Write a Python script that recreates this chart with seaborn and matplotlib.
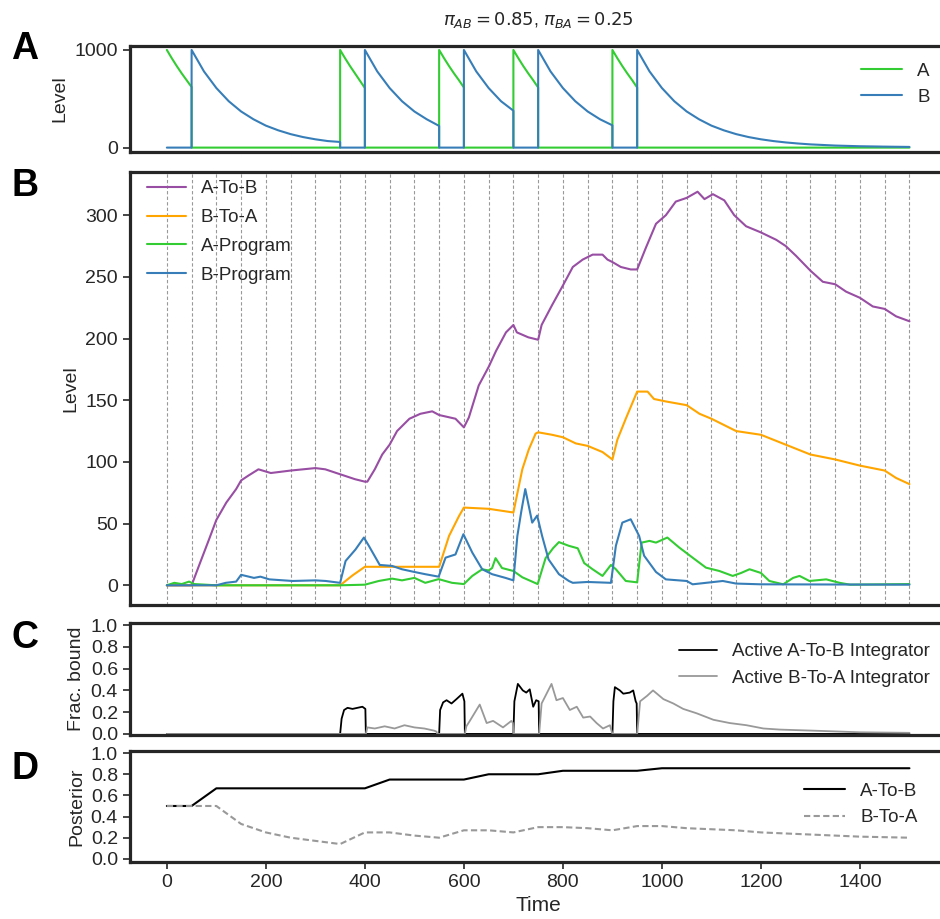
import numpy as np
import pandas as pd
import seaborn as sns
import matplotlib.pyplot as plt

# ============================================================ DATA ============================================================

# Panel A : program levels
PROG_A_TIME  = [0, 10, 20, 30, 40, 50, 50, 350, 350, 360, 370, 380, 390, 400, 400, 550, 550, 560, 570, 580, 590, 600, 600,
                700, 700, 710, 720, 730, 740, 750, 750, 900, 900, 910, 920, 930, 940, 950, 950, 1500]
PROG_A_LEVEL = [1000, 915, 835, 760, 690, 620, 0, 0, 1000, 915, 835, 760, 685, 610, 0, 0, 1000, 915, 835, 760, 690, 615, 0,
                0, 1000, 915, 835, 760, 690, 615, 0, 0, 1000, 915, 835, 760, 690, 615, 0, 0]

PROG_B_TIME  = [0, 50, 50, 75, 100, 125, 150, 175, 200, 225, 250, 275, 300, 325, 350, 350,
                400, 400, 425, 450, 475, 500, 525, 550, 550,
                600, 600, 625, 650, 675, 700, 700,
                750, 750, 775, 800, 825, 850, 875, 900, 900,
                950, 950, 975, 1000, 1025, 1050, 1075, 1100, 1125, 1150, 1175, 1200, 1225, 1250, 1275, 1300,
                1350, 1400, 1450, 1500]
PROG_B_LEVEL = [0, 0, 1000, 780, 610, 475, 370, 290, 225, 177, 138, 108, 85, 67, 58, 0,
                0, 1000, 780, 610, 475, 370, 290, 222, 0,
                0, 1000, 780, 610, 475, 378, 0,
                0, 1000, 780, 610, 475, 370, 290, 228, 0,
                0, 1000, 780, 610, 475, 370, 290, 225, 177, 138, 108, 85, 67, 53, 42, 33,
                21, 14, 10, 7]

# Panel B : integrators and programs
AB_TIME  = [0, 50, 65, 85, 100, 120, 140, 150, 165, 185, 210, 250, 300, 320, 350, 380, 400, 405, 420, 435,
            450, 465, 490, 512, 536, 550, 583, 600, 610, 630, 650, 665, 685, 700, 707, 730, 750, 757, 778, 800,
            820, 840, 860, 880, 890, 900, 917, 937, 950, 967, 988, 1008, 1028, 1050, 1072, 1086, 1103, 1126, 1146, 1170,
            1200, 1231, 1250, 1271, 1300, 1325, 1350, 1372, 1400, 1426, 1450, 1473, 1500]
AB_LEVEL = [0, 0, 16, 37, 53, 67, 78, 85, 89, 94, 91, 93, 95, 94, 90, 86, 84, 84, 94, 106,
            114, 125, 135, 139, 141, 138, 135, 128, 136, 162, 177, 190, 205, 211, 205, 201, 199, 211, 227, 243,
            258, 264, 268, 268, 264, 262, 258, 256, 256, 273, 293, 300, 311, 314, 319, 313, 317, 312, 300, 291,
            286, 280, 275, 267, 255, 246, 244, 238, 233, 226, 224, 218, 214]

BA_TIME  = [0, 350, 375, 400, 550, 570, 590, 600, 650, 700, 718, 731, 745, 750, 778, 800, 826, 850, 880, 900,
            910, 927, 950, 971, 984, 1008, 1050, 1076, 1100, 1130, 1150, 1200, 1250, 1300, 1350, 1400, 1450, 1473, 1500]
BA_LEVEL = [0, 0, 8, 15, 15, 40, 56, 63, 62, 59, 94, 110, 123, 124, 122, 120, 115, 113, 108, 102,
            118, 135, 157, 157, 151, 149, 146, 139, 135, 129, 125, 122, 114, 106, 102, 97, 93, 87, 82]

APROG_TIME  = [0, 15, 30, 45, 55, 100, 350, 400, 428, 455, 475, 500, 522, 549, 576, 600, 617, 637, 650, 657,
               664, 677, 700, 718, 749, 765, 780, 792, 812, 830, 843, 860, 880, 897, 907, 927, 950, 959, 975, 988,
               1011, 1035, 1062, 1089, 1116, 1143, 1160, 1177, 1200, 1217, 1245, 1265, 1278, 1298, 1332, 1359, 1380, 1500]
APROG_LEVEL = [0, 2, 1, 3, 1, 0, 0, 0.5, 3.5, 5.4, 4, 6, 2, 5, 2, 1, 7.6, 13, 12, 14,
               22, 14, 11.6, 6.5, 1, 22, 30, 35, 32, 30, 18, 13, 7.6, 16.5, 13, 3.5, 2.4, 34.6, 36, 34.6,
               38.7, 30.6, 22.4, 14.3, 11.6, 7.6, 10, 13, 10, 3.5, 0.8, 6, 7.6, 3.5, 4.8, 2, 0.5, 1]

BPROG_TIME  = [0, 100, 119, 140, 150, 176, 189, 207, 254, 300, 321, 350, 361, 381, 398, 408, 430, 455, 475, 500,
               522, 549, 563, 583, 599, 617, 637, 657, 684, 700, 708, 716, 724, 738, 748, 758, 771, 792, 812, 820,
               850, 897, 907, 920, 937, 954, 964, 988, 1008, 1050, 1062, 1123, 1150, 1200, 1500]
BPROG_LEVEL = [0, 0, 2, 3, 8.5, 6, 7, 4.8, 3.5, 4, 3.5, 2, 19.7, 29, 38.7, 32, 16.5, 15.7, 13, 10.8,
               9, 7, 22.4, 25, 41.4, 26.5, 13, 9, 6, 4, 40, 60, 78, 50.8, 56.5, 40, 21, 9, 3.5, 2,
               2.7, 2, 32, 50.8, 53.5, 40, 24, 10.8, 4.8, 3.5, 0.8, 3.5, 1.4, 0.8, 0.5]

# Panel C : fraction bound of the active integrators
ACT_AB_TIME = [0, 350, 353, 358, 365, 375, 385, 395, 401, 402, 550, 552, 558, 565, 575, 585, 597, 601, 602,
               700, 702, 709, 719, 726, 733, 740, 746, 751, 752, 900, 902, 905, 915, 922, 935, 942, 947, 949, 950, 1500]
ACT_AB_FRAC = [0, 0, 0.14, 0.22, 0.24, 0.23, 0.24, 0.25, 0.23, 0, 0, 0.22, 0.29, 0.31, 0.28, 0.32, 0.37, 0.3, 0,
               0, 0.3, 0.46, 0.4, 0.38, 0.41, 0.25, 0.31, 0.3, 0, 0, 0.3, 0.43, 0.4, 0.37, 0.38, 0.4, 0.3, 0.28, 0, 0]

ACT_BA_TIME = [0, 402, 405, 420, 440, 460, 480, 500, 520, 540, 545, 546, 602, 605, 612, 632, 646, 659, 679, 696, 699,
               700, 752, 757, 777, 787, 800, 814, 828, 841, 855, 868, 881, 895, 900,
               950, 956, 970, 982, 1003, 1023, 1043, 1070, 1104, 1137, 1171, 1205, 1238, 1306, 1400, 1500]
ACT_BA_FRAC = [0, 0, 0.06, 0.05, 0.07, 0.05, 0.08, 0.06, 0.05, 0.03, 0.02, 0, 0, 0.07, 0.12, 0.27, 0.1, 0.12, 0.06, 0.12, 0.1,
               0, 0, 0.28, 0.46, 0.31, 0.33, 0.22, 0.25, 0.15, 0.16, 0.1, 0.05, 0.08, 0,
               0, 0.3, 0.35, 0.4, 0.32, 0.28, 0.23, 0.19, 0.13, 0.1, 0.08, 0.05, 0.04, 0.03, 0.015, 0.01]

# Panel D : posterior
POST_TIME  = [0, 50, 100, 150, 200, 250, 300, 350, 400, 450, 500, 550, 600, 650, 700, 750, 800, 850,
              900, 950, 1000, 1050, 1100, 1150, 1200, 1250, 1300, 1350, 1400, 1450, 1500]
POST_AB    = [0.5, 0.5, 0.667, 0.667, 0.667, 0.667, 0.667, 0.667, 0.667, 0.75, 0.75, 0.75, 0.75, 0.8, 0.8, 0.8, 0.833, 0.833,
              0.833, 0.833, 0.857, 0.857, 0.857, 0.857, 0.857, 0.857, 0.857, 0.857, 0.857, 0.857, 0.857]
POST_BA    = [0.5, 0.5, 0.5, 0.33, 0.25, 0.2, 0.17, 0.14, 0.25, 0.25, 0.22, 0.2, 0.27, 0.27, 0.25, 0.3, 0.3, 0.29,
              0.27, 0.31, 0.31, 0.29, 0.28, 0.27, 0.25, 0.24, 0.23, 0.22, 0.21, 0.205, 0.2]

# ============================================================ DATAFRAMES ============================================================

def frame(time, values, name, ycol):
    return pd.DataFrame({"Time": time, ycol: values, "Series": name})

df_prog = pd.concat([frame(PROG_A_TIME, PROG_A_LEVEL, "A", "Level"),
                     frame(PROG_B_TIME, PROG_B_LEVEL, "B", "Level")])
df_int  = pd.concat([frame(AB_TIME, AB_LEVEL, "A-To-B", "Level"),
                     frame(BA_TIME, BA_LEVEL, "B-To-A", "Level"),
                     frame(APROG_TIME, APROG_LEVEL, "A-Program", "Level"),
                     frame(BPROG_TIME, BPROG_LEVEL, "B-Program", "Level")])
df_act  = pd.concat([frame(ACT_AB_TIME, ACT_AB_FRAC, "Active A-To-B Integrator", "Frac"),
                     frame(ACT_BA_TIME, ACT_BA_FRAC, "Active B-To-A Integrator", "Frac")])
df_post = pd.concat([frame(POST_TIME, POST_AB, "A-To-B", "Posterior"),
                     frame(POST_TIME, POST_BA, "B-To-A", "Posterior")])

GREEN, BLUE, PURPLE, ORANGE = "#33cc33", "#377eb8", "#984ea3", "#ffa500"

# ============================================================ PLOT ============================================================

sns.set_style("ticks")
plt.rcParams['font.family'] = ['Liberation Sans', 'DejaVu Sans']
plt.rcParams['axes.edgecolor'] = '#262626'
plt.rcParams['axes.linewidth'] = 2.3
plt.rcParams['xtick.major.width'] = 1.2
plt.rcParams['ytick.major.width'] = 1.2
plt.rcParams['xtick.major.size'] = 5
plt.rcParams['ytick.major.size'] = 5

FS_TICK, FS_LAB, FS_LEG = 14, 14, 13.5
fig = plt.figure(figsize=(9.4, 9.19), dpi=100)
left, width = 0.138, 0.869
ax_a = fig.add_axes([left, 0.8346, width, 0.1153])
ax_b = fig.add_axes([left, 0.3417, width, 0.4711], sharex=ax_a)
ax_c = fig.add_axes([left, 0.2002, width, 0.1219], sharex=ax_a)
ax_d = fig.add_axes([left, 0.0620, width, 0.1208], sharex=ax_a)

# A
sns.lineplot(data=df_prog, x="Time", y="Level", hue="Series", palette={"A": GREEN, "B": BLUE},
             estimator=None, sort=False, lw=1.5, ax=ax_a)
ax_a.set_ylim(-45, 1040)
ax_a.set_yticks([0, 1000])
ax_a.legend(frameon=False, loc="center right", fontsize=FS_LEG, handlelength=2.2, bbox_to_anchor=(1.0, 0.64))
ax_a.set_title(r"$\pi_{AB} = 0.85$, $\pi_{BA} = 0.25$", fontsize=13, pad=15)

# B
for t in range(0, 1501, 50):
    ax_b.axvline(t, color="#999999", lw=0.8, ls=(0, (3, 2)), zorder=0)
sns.lineplot(data=df_int, x="Time", y="Level", hue="Series",
             palette={"A-To-B": PURPLE, "B-To-A": ORANGE, "A-Program": GREEN, "B-Program": BLUE},
             estimator=None, sort=False, lw=1.5, ax=ax_b)
ax_b.set_yticks(range(0, 301, 50))
ax_b.legend(frameon=False, loc="upper left", fontsize=FS_LEG, handlelength=2.1, labelspacing=0.62,
            bbox_to_anchor=(0.0, 1.02))

# C
sns.lineplot(data=df_act, x="Time", y="Frac", hue="Series",
             palette={"Active A-To-B Integrator": "black", "Active B-To-A Integrator": "#999999"},
             estimator=None, sort=False, lw=1.3, ax=ax_c)
ax_c.set_ylim(-0.01, 1.02)
ax_c.set_yticks(np.arange(0, 1.01, 0.2))
ax_c.set_ylabel("Frac. bound", fontsize=FS_LAB)
ax_c.legend(frameon=False, loc="upper right", fontsize=FS_LEG, handlelength=2.0, bbox_to_anchor=(1.0, 0.97))

# D
sns.lineplot(data=df_post, x="Time", y="Posterior", hue="Series", style="Series",
             palette={"A-To-B": "black", "B-To-A": "#999999"},
             dashes={"A-To-B": "", "B-To-A": (3, 1.6)}, lw=1.5, ax=ax_d)
ax_d.set_ylim(-0.03, 1.02)
ax_d.set_yticks(np.arange(0, 1.01, 0.2))
ax_d.legend(frameon=False, loc="center right", fontsize=FS_LEG, handlelength=2.2, bbox_to_anchor=(0.985, 0.52))
ax_d.set_xticks(range(0, 1401, 200))
ax_d.set_xlabel("Time", fontsize=15)
ax_d.set_xlim(-75, 1575)

for ax in (ax_a, ax_b, ax_c, ax_d):
    ax.tick_params(labelsize=FS_TICK, colors="#262626")
    if ax is not ax_d:
        ax.set_xlabel("")
        ax.tick_params(axis="x", bottom=False, labelbottom=False)
for ax in (ax_a, ax_b):
    ax.set_ylabel("Level", fontsize=FS_LAB)
ax_d.set_ylabel("Posterior", fontsize=FS_LAB)

for label, y in zip("ABCD", [0.947, 0.798, 0.306, 0.163]):
    fig.text(0.012, y, label, fontsize=27, fontweight="bold", va="center", color="black")

plt.savefig("out.png", dpi=100)
